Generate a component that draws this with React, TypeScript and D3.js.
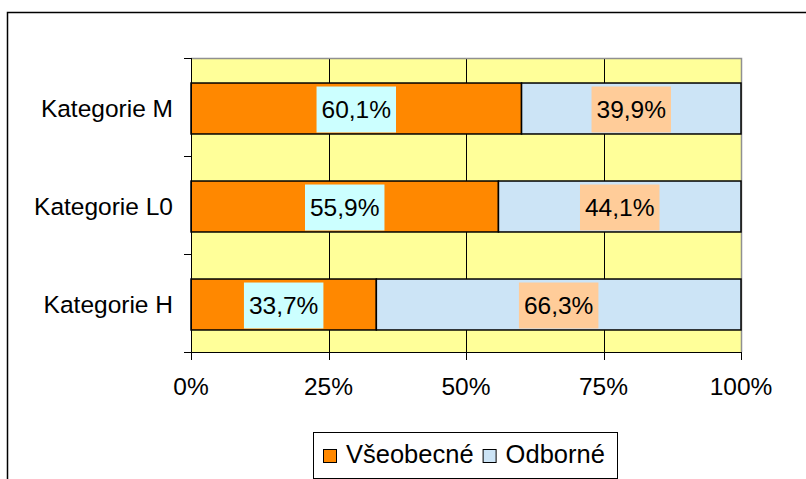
import { useEffect, useRef } from "react";
import * as d3 from "d3";

const categories = ["Kategorie M", "Kategorie L0", "Kategorie H"];
const vseobecne = [60.1, 55.9, 33.7];
const odborne = [39.9, 44.1, 66.3];
const seriesNames = ["Všeobecné", "Odborné"];
const xTicks = [0, 25, 50, 75, 100];

const FONT = "'Liberation Sans', Arial, sans-serif";

const App = () => {
  const ref = useRef<SVGSVGElement>(null);

  useEffect(() => {
    const svg = d3.select(ref.current);
    svg.selectAll("*").remove();

    const dims = { width: 806, height: 479, left: 191, right: 741, top: 58, bottom: 352 };
    const colors = ["#FF8800", "#CCE4F6"];
    const labelBg = ["#CCFFFF", "#FFCC99"];
    const fs = 24.5;

    const xScale = d3.scaleLinear().domain([0, 100]).range([dims.left, dims.right]);
    const yScale = d3.scaleBand().domain(categories).range([dims.top, dims.bottom]).padding(0);
    const bw = yScale.bandwidth();
    const barH = bw * 0.52;
    const barOff = (bw - barH) / 2 + 1.5;

    // outer frame
    svg
      .append("rect")
      .attr("x", 7.5)
      .attr("y", 12.5)
      .attr("width", 900)
      .attr("height", 600)
      .attr("fill", "#fff")
      .attr("stroke", "#000")
      .attr("stroke-width", 1.5);

    // plot area
    svg
      .append("rect")
      .attr("x", dims.left)
      .attr("y", dims.top)
      .attr("width", dims.right - dims.left)
      .attr("height", dims.bottom - dims.top)
      .attr("fill", "#FFFF99");

    svg
      .append("g")
      .selectAll("line")
      .data(xTicks.slice(1, -1))
      .enter()
      .append("line")
      .attr("x1", (d) => Math.round(xScale(d)) + 0.5)
      .attr("x2", (d) => Math.round(xScale(d)) + 0.5)
      .attr("y1", dims.top)
      .attr("y2", dims.bottom)
      .attr("stroke", "#000")
      .attr("stroke-width", 1);

    // gray top/right border
    svg
      .append("path")
      .attr("d", `M${dims.left},${dims.top + 0.5}H${dims.right + 0.5}V${dims.bottom}`)
      .attr("fill", "none")
      .attr("stroke", "#909090")
      .attr("stroke-width", 1.5);

    const rows = categories.map((c, i) => ({ cat: c, vals: [vseobecne[i], odborne[i]] }));

    rows.forEach((row) => {
      let start = 0;
      row.vals.forEach((v, j) => {
        const x0 = xScale(start);
        const x1 = xScale(start + v);
        const y = (yScale(row.cat) as number) + barOff;
        svg
          .append("rect")
          .attr("x", x0)
          .attr("y", y)
          .attr("width", x1 - x0)
          .attr("height", barH)
          .attr("fill", colors[j])
          .attr("stroke", "#000")
          .attr("stroke-width", 1.5);

        const cx = (x0 + x1) / 2;
        const g = svg.append("g");
        const bg = g.append("rect").attr("fill", labelBg[j]);
        const txt = g
          .append("text")
          .attr("x", cx)
          .attr("y", y + barH / 2 + 9.5)
          .attr("text-anchor", "middle")
          .attr("font-family", FONT)
          .attr("font-size", fs)
          .attr("fill", "#000")
          .text(v.toFixed(1).replace(".", ",") + "%");
        const tw = (txt.node() as SVGTextElement).getComputedTextLength();
        bg.attr("x", cx - tw / 2 - 5)
          .attr("y", y + 3.5)
          .attr("width", tw + 10)
          .attr("height", barH - 5);
        start += v;
      });
    });

    // left axis
    svg
      .append("line")
      .attr("x1", dims.left + 0.5)
      .attr("x2", dims.left + 0.5)
      .attr("y1", dims.top)
      .attr("y2", dims.bottom)
      .attr("stroke", "#000");
    const yBounds = categories.map((c) => yScale(c) as number).concat([dims.bottom]);
    svg
      .append("g")
      .selectAll("line")
      .data(yBounds)
      .enter()
      .append("line")
      .attr("x1", dims.left - 7)
      .attr("x2", dims.left)
      .attr("y1", (d) => Math.round(d) + 0.5)
      .attr("y2", (d) => Math.round(d) + 0.5)
      .attr("stroke", "#000");
    svg
      .append("g")
      .selectAll("text")
      .data(categories)
      .enter()
      .append("text")
      .attr("x", dims.left - 18)
      .attr("y", (d) => (yScale(d) as number) + bw / 2 + 9.5)
      .attr("text-anchor", "end")
      .attr("font-family", FONT)
      .attr("font-size", fs)
      .text((d) => d);

    // bottom axis
    svg
      .append("line")
      .attr("x1", dims.left)
      .attr("x2", dims.right + 1)
      .attr("y1", dims.bottom + 0.5)
      .attr("y2", dims.bottom + 0.5)
      .attr("stroke", "#000");
    svg
      .append("g")
      .selectAll("line")
      .data(xTicks)
      .enter()
      .append("line")
      .attr("x1", (d) => Math.round(xScale(d)) + 0.5)
      .attr("x2", (d) => Math.round(xScale(d)) + 0.5)
      .attr("y1", dims.bottom)
      .attr("y2", dims.bottom + 8)
      .attr("stroke", "#000");
    svg
      .append("g")
      .selectAll("text")
      .data(xTicks)
      .enter()
      .append("text")
      .attr("x", (d) => xScale(d))
      .attr("y", 395)
      .attr("text-anchor", "middle")
      .attr("font-family", FONT)
      .attr("font-size", fs)
      .text((d) => d + "%");

    // legend
    svg
      .append("rect")
      .attr("x", 313.5)
      .attr("y", 432.5)
      .attr("width", 304)
      .attr("height", 46)
      .attr("fill", "#fff")
      .attr("stroke", "#000");
    let lx = 323;
    seriesNames.forEach((name, i) => {
      svg
        .append("rect")
        .attr("x", lx + 0.5)
        .attr("y", 449.5)
        .attr("width", 13)
        .attr("height", 13)
        .attr("fill", colors[i])
        .attr("stroke", "#000");
      const t = svg
        .append("text")
        .attr("x", lx + 23)
        .attr("y", 463)
        .attr("font-family", FONT)
        .attr("font-size", 25.5)
        .text(name);
      lx += 23 + (t.node() as SVGTextElement).getComputedTextLength() + 9;
    });
  }, []);

  return (
    <svg
      ref={ref}
      width={806}
      height={479}
      style={{ position: "absolute", left: 0, top: 0, background: "#fff" }}
    />
  );
};

export default App;
